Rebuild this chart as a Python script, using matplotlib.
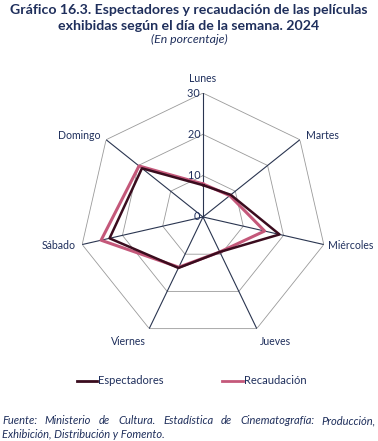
import numpy as np
from matplotlib import pyplot as plt

dias = ['Lunes', 'Martes', 'Miércoles', 'Jueves', 'Viernes', 'Sábado', 'Domingo']
espectadores = [7.7, 8.6, 19.0, 9.4, 13.7, 23.2, 18.9]
recaudacion = [8.0, 8.3, 15.3, 9.4, 13.5, 25.3, 19.8]
anillos = [10, 20, 30]

navy = '#1f2f5c'
plt.rcParams['font.family'] = ['Lato', 'DejaVu Sans']

fig = plt.figure(figsize=(3.78, 4.41), dpi=100)
ax = fig.add_axes([0.209, 0.227, 0.656, 0.562], polar=True)
ax.set_theta_zero_location('N')
ax.set_theta_direction(-1)
ax.set_ylim(0, 30)
ax.axis('off')

ang = np.linspace(0, 2 * np.pi, len(dias), endpoint=False)
cerrado = np.append(ang, ang[0])

# heptagon grid
for r in anillos:
    ax.plot(cerrado, [r] * len(cerrado), color='#9a9a9a', lw=0.6, zorder=1)
for a in ang:
    ax.plot([a, a], [0, 30], color='#2a3550', lw=0.8, zorder=2)

ax.plot(cerrado, np.append(recaudacion, recaudacion[0]), color='#c4587a', lw=2.2, zorder=3)
ax.plot(cerrado, np.append(espectadores, espectadores[0]), color='#3a0c1e', lw=1.8, zorder=4)

for r in [0] + anillos:
    ax.text(0, r, str(r) + ' ', ha='right', va='center', color=navy, fontsize=7.8)

# category labels
pos = {'Lunes': ('center', 'bottom', 32.3), 'Martes': ('left', 'center', 31.8),
       'Miércoles': ('left', 'center', 31.0), 'Jueves': ('left', 'top', 32.0),
       'Viernes': ('right', 'top', 32.0), 'Sábado': ('right', 'center', 31.5),
       'Domingo': ('right', 'center', 31.8)}
for a, d in zip(ang, dias):
    ha, va, r = pos[d]
    ax.text(a, r, d, ha=ha, va=va, color=navy, fontsize=7.6)

fig.text(0.5, 0.978, 'Gráfico 16.3. Espectadores y recaudación de las películas',
         ha='center', va='center', fontsize=10.2, fontweight='bold', color=navy)
fig.text(0.5, 0.942, 'exhibidas según el día de la semana. 2024',
         ha='center', va='center', fontsize=10.2, fontweight='bold', color=navy)
fig.text(0.5, 0.91, '(En porcentaje)', ha='center', va='center',
         fontsize=8.8, style='italic', color=navy)

# legend
ly = 1 - 381 / 441
fig.add_artist(plt.Line2D([77 / 378, 97 / 378], [ly, ly], color='#3a0c1e', lw=2))
fig.text(98 / 378, ly, 'Espectadores', ha='left', va='center', fontsize=8, color=navy)
fig.add_artist(plt.Line2D([222 / 378, 243 / 378], [ly, ly], color='#c4587a', lw=2))
fig.text(244 / 378, ly, 'Recaudación', ha='left', va='center', fontsize=8, color=navy)

# justified source note, first line
linea1 = 'Fuente: Ministerio de Cultura. Estadística de Cinematografía: Producción,'.split()
renderer = fig.canvas.get_renderer()
y1 = 1 - 421 / 441
palabras = [fig.text(0, y1, w, ha='left', va='center', fontsize=8,
                     style='italic', color=navy) for w in linea1]
anchos = [t.get_window_extent(renderer).width for t in palabras]
x0, x1 = 2, 376
hueco = (x1 - x0 - sum(anchos)) / (len(anchos) - 1)
x = x0
for t, w in zip(palabras, anchos):
    t.set_x(x / 378)
    x += w + hueco
fig.text(2 / 378, 1 - 434 / 441, 'Exhibición, Distribución y Fomento.',
         ha='left', va='center', fontsize=8, style='italic', color=navy)

plt.savefig('out.png', dpi=100)
